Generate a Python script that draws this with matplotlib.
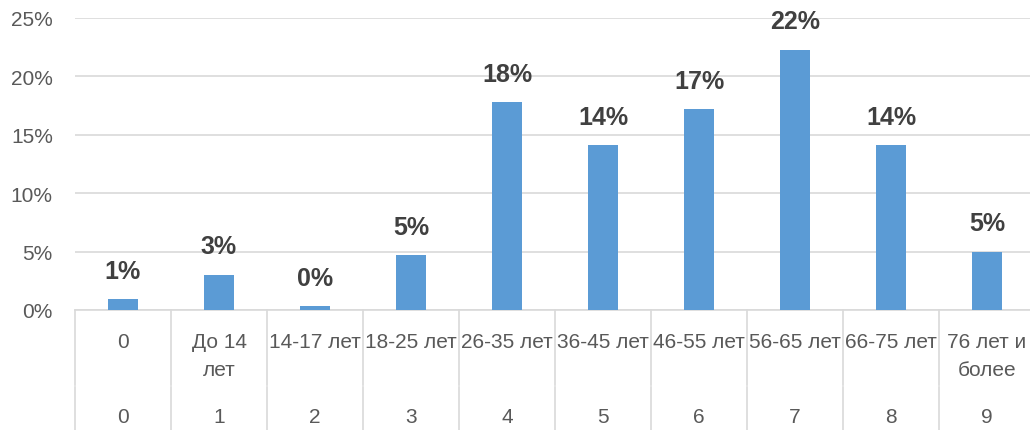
import matplotlib.pyplot as plt
from matplotlib.ticker import FuncFormatter

# data (percent)
categories = ["0", "До 14\nлет", "14-17 лет", "18-25 лет", "26-35 лет",
              "36-45 лет", "46-55 лет", "56-65 лет", "66-75 лет", "76 лет и\nболее"]
codes = ["0", "1", "2", "3", "4", "5", "6", "7", "8", "9"]
shares = [0.9, 3.0, 0.3, 4.7, 17.8, 14.1, 17.2, 22.3, 14.1, 5.0]

W, H = 1030, 431
fig = plt.figure(figsize=(W / 100, H / 100), dpi=100)
ax = fig.add_axes([75 / W, (H - 311) / H, (W - 75) / W, 292 / H])

x = list(range(len(categories)))
bars = ax.bar(x, shares, width=0.31, color="#5B9BD5", zorder=3)

for b, v in zip(bars, shares):
    ax.annotate(f"{round(v):.0f}%", (b.get_x() + b.get_width() / 2, v),
                xytext=(0, 20.5), textcoords="offset points", ha="center", va="center",
                fontsize=18, fontweight="bold", color="#404040",
                family="Liberation Sans")

ax.set_ylim(0, 25)
ax.set_xlim(-0.5, -0.5 + 955 / 96)
ax.set_yticks([0, 5, 10, 15, 20, 25])
ax.yaxis.set_major_formatter(FuncFormatter(lambda v, p: f"{v:.0f}%"))
ax.tick_params(axis="y", length=0, pad=16, labelsize=15, labelcolor="#595959")
for lab in ax.get_yticklabels():
    lab.set_family("Liberation Sans")
ax.set_xticks([])
ax.grid(axis="y", color="#D9D9D9", linewidth=1.2, zorder=0)
for s in ["top", "right", "left"]:
    ax.spines[s].set_visible(False)
ax.spines["bottom"].set_color("#D9D9D9")
ax.spines["bottom"].set_linewidth(1.2)

# two-level category axis
tr = ax.get_xaxis_transform()
for i in range(len(categories) + 1):
    ax.plot([i - 0.5, i - 0.5], [0, -75 / 292], transform=tr, color="#D9D9D9",
            lw=1.2, clip_on=False)
    ax.plot([i - 0.5, i - 0.5], [-77 / 292, -125 / 292], transform=tr, color="#D9D9D9",
            lw=1.2, clip_on=False)
for i, (c, n) in enumerate(zip(categories, codes)):
    ax.text(i, -22 / 292, c, transform=tr, ha="center", va="top", fontsize=15,
            color="#595959", family="Liberation Sans", linespacing=1.6)
    ax.text(i, -107 / 292, n, transform=tr, ha="center", va="center", fontsize=15,
            color="#595959", family="Liberation Sans")

fig.savefig("out.png", dpi=100)
